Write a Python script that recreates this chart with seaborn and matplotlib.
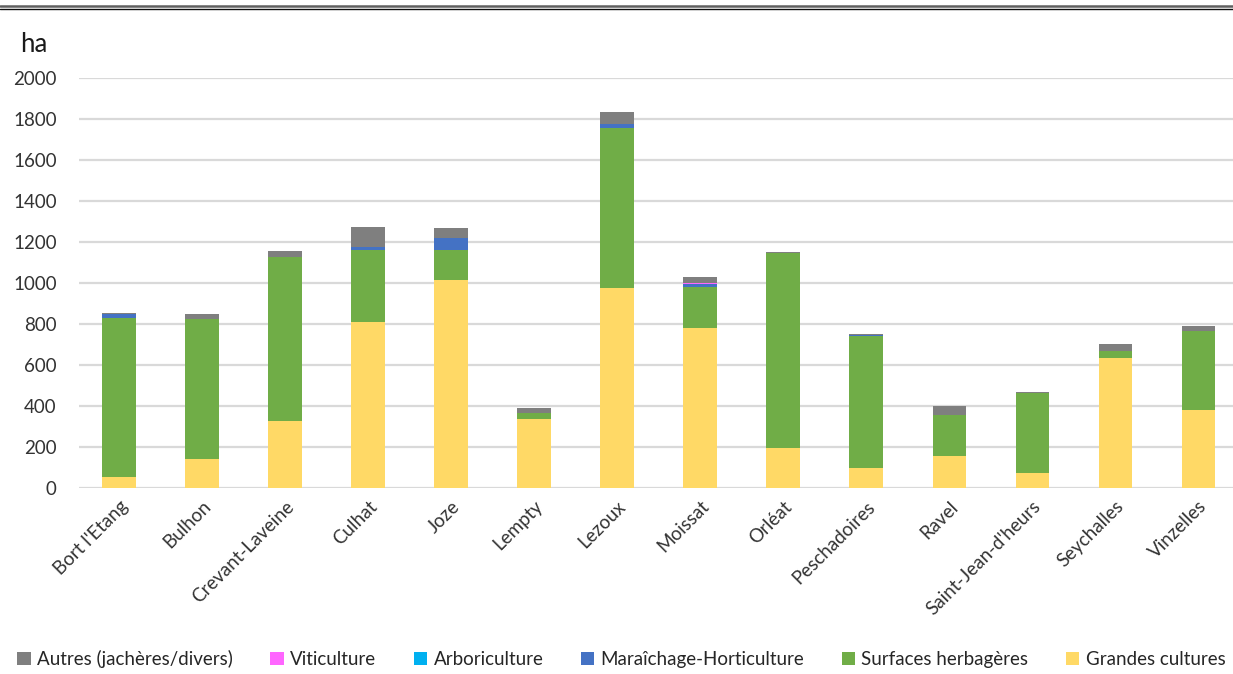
import matplotlib
matplotlib.use("Agg")
import matplotlib.pyplot as plt
from matplotlib.patches import Patch
from matplotlib.lines import Line2D
import numpy as np
import pandas as pd
import seaborn as sns

# Surface agricole par commune (ha)
communes = ["Bort l'Etang", "Bulhon", "Crevant-Laveine", "Culhat", "Joze", "Lempty",
            "Lezoux", "Moissat", "Orléat", "Peschadoires", "Ravel",
            "Saint-Jean-d'heurs", "Seychalles", "Vinzelles"]
grandes_cultures = [52, 143, 325, 811, 1015, 335, 974, 782, 194, 96, 158, 72, 634, 382]
surfaces_herbageres = [779, 683, 802, 351, 147, 32, 781, 197, 951, 647, 197, 391, 36, 384]
maraichage_horticulture = [16, 0, 0, 14, 56, 0, 22, 15, 0, 2, 0, 0, 0, 0]
arboriculture = [0, 0, 0, 0, 0, 0, 0, 0, 0, 0, 0, 0, 0, 0]
viticulture = [0, 0, 0, 0, 0, 0, 0, 6, 0, 0, 0, 0, 0, 0]
autres = [5, 21, 29, 97, 50, 25, 59, 27, 8, 5, 47, 7, 31, 26]

# stacking order, bottom to top
layers = [
    ("Grandes cultures", grandes_cultures, "#FFD966"),
    ("Surfaces herbagères", surfaces_herbageres, "#70AD47"),
    ("Maraîchage-Horticulture", maraichage_horticulture, "#4472C4"),
    ("Arboriculture", arboriculture, "#00B0F0"),
    ("Viticulture", viticulture, "#FF66FF"),
    ("Autres (jachères/divers)", autres, "#7F7F7F"),
]
legend_order = ["Autres (jachères/divers)", "Viticulture", "Arboriculture",
                "Maraîchage-Horticulture", "Surfaces herbagères", "Grandes cultures"]

sns.set_theme(style="white")
plt.rcParams["font.family"] = ["Lato", "DejaVu Sans"]

fig = plt.figure(figsize=(12.33, 6.74), dpi=100)
ax = fig.add_axes([79 / 1233, 1 - 488 / 674, 1 - 79 / 1233, (488 - 78) / 674])

# cumulative tops, drawn from the highest layer down so each sits on the one below
cum = np.zeros(len(communes))
tops = []
for name, vals, color in layers:
    cum = cum + np.array(vals, dtype=float)
    tops.append((name, cum.copy(), color))

for name, top, color in reversed(tops):
    df = pd.DataFrame({"commune": communes, "ha": top})
    sns.barplot(data=df, x="commune", y="ha", order=communes, color=color,
                width=0.4, saturation=1, edgecolor="none", linewidth=0,
                errorbar=None, ax=ax, zorder=3)

ax.set_ylim(0, 2000)
ax.set_xlim(-0.482, 13.42)
ax.set_yticks(np.arange(0, 2001, 200))
ax.yaxis.grid(True, color="#D9D9D9", linewidth=1.6, zorder=0)
ax.xaxis.grid(False)
for s in ax.spines.values():
    s.set_visible(False)
ax.set_xlabel("")
ax.set_ylabel("")
ax.tick_params(axis="y", length=0, pad=16, labelsize=13.5, labelcolor="#333333")
ax.tick_params(axis="x", length=0, pad=7, labelsize=13.5, labelcolor="#333333")
plt.setp(ax.get_xticklabels(), rotation=45, ha="right", rotation_mode="anchor")

fig.text(20 / 1233, 1 - 44 / 674, "ha", fontsize=18.5, color="#1a1a1a",
         ha="left", va="center")

# double rule along the top
fig.add_artist(Line2D([0, 1], [1 - 5.5 / 674] * 2, color="#606060", linewidth=1.8))
fig.add_artist(Line2D([0, 1], [1 - 8.5 / 674] * 2, color="#101010", linewidth=1.0))

colors = {n: c for n, _, c in layers}
handles = [Patch(facecolor=colors[n], edgecolor="none", label=n) for n in legend_order]
fig.legend(handles=handles, loc="center", bbox_to_anchor=(0.504, 1 - 659 / 674),
           ncol=6, frameon=False, fontsize=13.5, handlelength=0.7, handleheight=0.7,
           handletextpad=0.35, columnspacing=2.0, labelcolor="#262626")

fig.savefig("out.png", dpi=100)
